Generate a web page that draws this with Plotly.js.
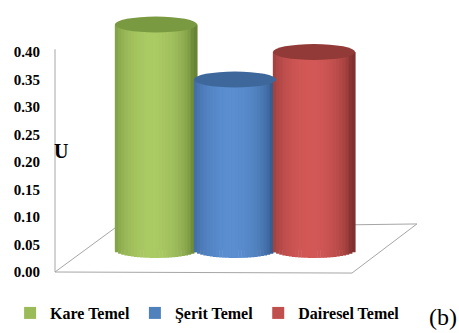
<!DOCTYPE html>
<html>
<head>
<meta charset="utf-8">
<script src="https://cdn.plot.ly/plotly-3.0.1.min.js"></script>
<style>html,body{margin:0;padding:0;background:#fff;}#chart{width:459px;height:333px;}</style>
</head>
<body>
<div id="chart"></div>
<script>
// ---- data ----
const series = ['Kare Temel', 'Şerit Temel', 'Dairesel Temel'];
const values = [0.41, 0.31, 0.36];
const yTickVals = [0, 0.05, 0.10, 0.15, 0.20, 0.25, 0.30, 0.35, 0.40];
const yTickText = ['0.00', '0.05', '0.10', '0.15', '0.20', '0.25', '0.30', '0.35', '0.40'];
const axisTitle = 'U';
const panelLabel = '(b)';

// ---- style ----
const legendColors = ['#9BBB59', '#4F81BD', '#C0504D'];
const highlight = [[170, 202, 100], [90, 142, 208], [210, 88, 86]];
const edge = [[104, 132, 52], [50, 86, 136], [128, 48, 46]];
const topColors = ['rgb(122,154,66)', 'rgb(62,104,156)', 'rgb(146,58,56)'];
const FONT = '"Liberation Serif", "Times New Roman", serif';
const W = 1.04;      // bar width in category units
const B = 0.0145;    // half-height of ellipse in value units
const N = 26;        // shading stripes per cylinder

function mix(a, b, t) {
  return 'rgb(' + a.map((v, j) => Math.round(v + (b[j] - v) * t)).join(',') + ')';
}

const traces = [];
series.forEach((name, i) => {
  traces.push({
    type: 'bar', x: [name], y: [values[i]], name: name,
    width: W, xaxis: 'x2', yaxis: 'y2',
    marker: { color: legendColors[i], line: { width: 0 } },
    hoverinfo: 'skip'
  });
});
series.forEach((name, i) => {
  for (let k = 0; k < N; k++) {
    const u = -1 + (2 * k + 1) / N;
    const h = B * Math.sqrt(Math.max(0, 1 - u * u));
    const s = u + 0.1;
    const t = Math.pow(Math.max(0, 1 - s * s), 0.6);
    traces.push({
      type: 'bar', x: [name], y: [values[i] + h], base: [-h],
      width: (W / N) * 1.15, offset: -W / 2 + k * W / N,
      xaxis: 'x2', yaxis: 'y2', showlegend: false, hoverinfo: 'skip',
      marker: { color: mix(edge[i], highlight[i], t), line: { width: 0 } }
    });
  }
});

const shapes = [
  // floor
  { type: 'path', xref: 'paper', yref: 'paper', layer: 'below',
    path: 'M0,0 L0.7615,-0.004 L0.928,0.182 L0.154,0.167 Z',
    line: { color: '#A6A6A6', width: 1 }, fillcolor: 'rgba(0,0,0,0)' },
  // vertical axis line
  { type: 'line', xref: 'paper', yref: 'y', x0: 0, x1: 0, y0: 0, y1: 0.405,
    line: { color: '#A6A6A6', width: 1 } }
];
series.forEach((name, i) => {
  shapes.push({
    type: 'circle', xref: 'x2', yref: 'y2',
    x0: i - W / 2, x1: i + W / 2, y0: values[i] - B, y1: values[i] + B,
    fillcolor: topColors[i], line: { width: 0 }
  });
});

const layout = {
  width: 459, height: 333,
  margin: { l: 55, r: 14, t: 8, b: 61, autoexpand: false },
  paper_bgcolor: '#fff', plot_bgcolor: 'rgba(0,0,0,0)',
  barmode: 'overlay',
  showlegend: true,
  font: { family: FONT, color: '#000' },
  xaxis: { range: [0, 1], visible: false, fixedrange: true },
  yaxis: {
    range: [0, 0.48], tickvals: yTickVals, ticktext: yTickText,
    showgrid: false, zeroline: false, showline: false,
    ticks: 'outside', ticklen: 11, tickcolor: 'rgba(0,0,0,0)',
    tickfont: { family: FONT, size: 15, color: '#000', weight: 'bold' }
  },
  xaxis2: { overlaying: 'x', type: 'category', categoryorder: 'array', categoryarray: series,
    range: [-1.278, 3.658], visible: false, fixedrange: true },
  yaxis2: { overlaying: 'y', range: [-0.04, 0.44], visible: false },
  legend: {
    orientation: 'h', xref: 'container', yref: 'container',
    x: 0.022, xanchor: 'left', y: 0.06, yanchor: 'middle',
    font: { family: FONT, size: 16, color: '#000', weight: 'bold' },
    itemwidth: 30,
    bgcolor: 'rgba(0,0,0,0)'
  },
  shapes: shapes,
  annotations: [
    { xref: 'paper', yref: 'paper', x: 0.016, y: 0.458, xanchor: 'center', yanchor: 'middle',
      text: axisTitle, showarrow: false,
      font: { family: FONT, size: 20, color: '#000', weight: 'bold' } },
    { xref: 'paper', yref: 'paper', x: 1.035, y: -0.17, xanchor: 'right', yanchor: 'middle',
      text: panelLabel, showarrow: false,
      font: { family: FONT, size: 24, color: '#000' } }
  ]
};

Plotly.newPlot('chart', traces, layout, { displayModeBar: false, staticPlot: true });
</script>
</body>
</html>
